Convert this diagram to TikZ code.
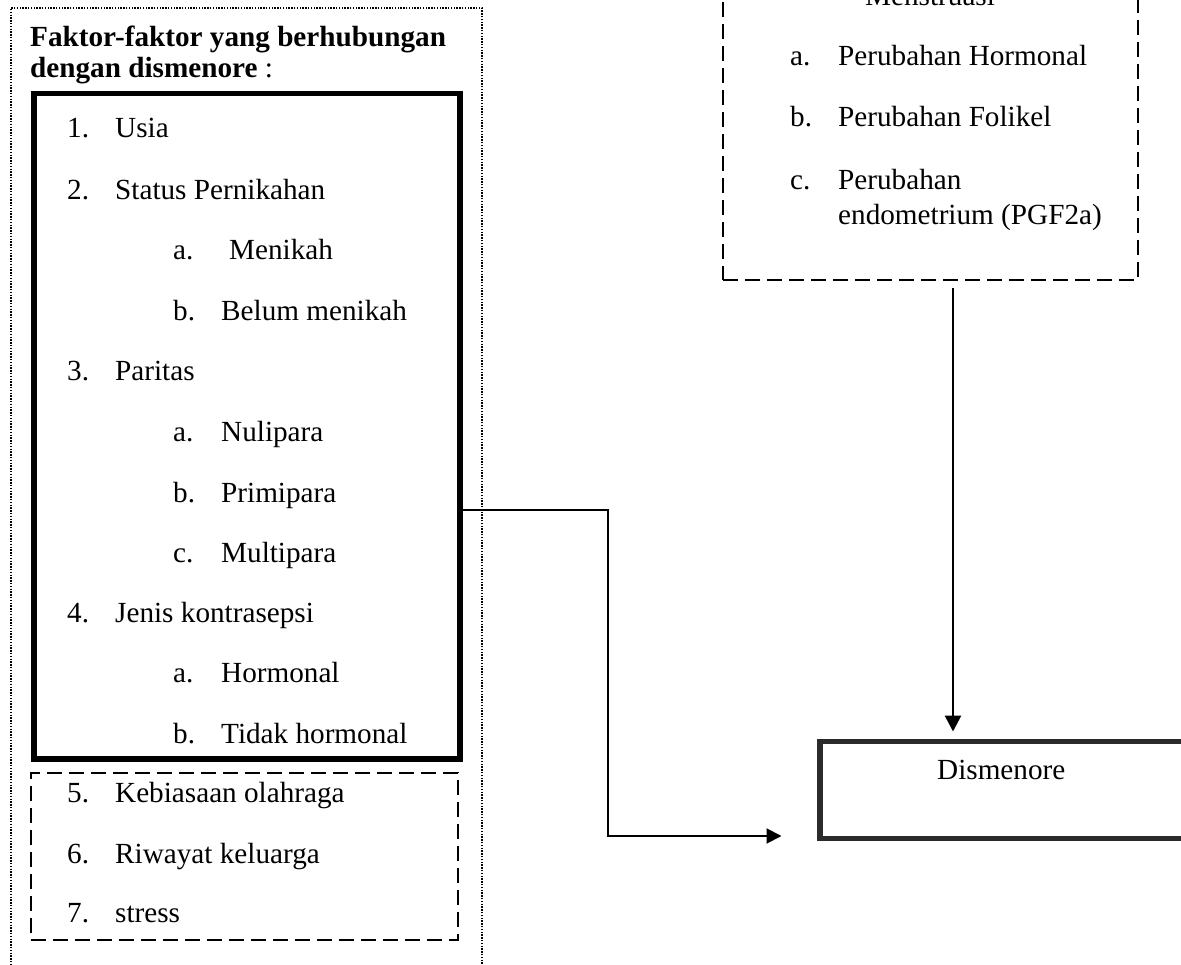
\documentclass[tikz,border=0pt]{standalone}
\usepackage{fontspec}
\setmainfont{Liberation Serif}
\usetikzlibrary{arrows.meta}
\definecolor{boxgray}{HTML}{2B2B2B}
\tikzset{
  txt/.style={font=\fontsize{29.2}{33}\selectfont, inner sep=0pt, anchor=base west},
  btxt/.style={txt, font=\fontsize{29.2}{33}\selectfont\bfseries},
  thickbox/.style={draw=black, line width=5.5pt, inner sep=0pt, anchor=north west},
  dashbox/.style={draw=black, line width=2pt, dash pattern=on 15pt off 7pt, inner sep=0pt, anchor=north west},
  dotbox/.style={draw=black, line width=1.8pt, dash pattern=on 1.4pt off 1.4pt, inner sep=0pt, anchor=north west},
  outbox/.style={draw=boxgray, line width=5.5pt, inner sep=0pt, anchor=north west},
  conn/.style={draw=black, line width=2pt, -{Triangle[length=15pt,width=15pt]}},
  vconn/.style={draw=black, line width=2.8pt, -{Triangle[length=16pt,width=16pt]}}
}
\begin{document}
\begin{tikzpicture}[x=1pt,y=-1pt]
\useasboundingbox (0,0) rectangle (1181,965);
% outer dotted box
\node[dotbox, minimum width=471pt, minimum height=1000pt] (outer) at (10,7) {};
% title
\node[btxt] (t1) at (30,47) {Faktor-faktor yang berhubungan};
\node[txt] (t2) at (30,78) {\textbf{dengan dismenore} :};
% thick box
\node[thickbox, minimum width=426pt, minimum height=665pt] (factors) at (31,91) {};
\node[txt] (n1) at (67,138) {1.};  \node[txt] (i1) at (115,138) {Usia};
\node[txt] (n2) at (67,200) {2.};  \node[txt] (i2) at (115,200) {Status Pernikahan};
\node[txt] (n2a) at (173,260) {a.}; \node[txt] (i2a) at (229,260) {Menikah};
\node[txt] (n2b) at (173,321) {b.}; \node[txt] (i2b) at (221,321) {Belum menikah};
\node[txt] (n3) at (67,381) {3.};  \node[txt] (i3) at (115,381) {Paritas};
\node[txt] (n3a) at (173,442) {a.}; \node[txt] (i3a) at (221,442) {Nulipara};
\node[txt] (n3b) at (173,502) {b.}; \node[txt] (i3b) at (221,502) {Primipara};
\node[txt] (n3c) at (173,562) {c.}; \node[txt] (i3c) at (221,562) {Multipara};
\node[txt] (n4) at (67,622) {4.};  \node[txt] (i4) at (115,622) {Jenis kontrasepsi};
\node[txt] (n4a) at (173,682) {a.}; \node[txt] (i4a) at (221,682) {Hormonal};
\node[txt] (n4b) at (173,743) {b.}; \node[txt] (i4b) at (221,743) {Tidak hormonal};
% dashed box 5-7
\node[dashbox, minimum width=427pt, minimum height=167pt] (other) at (30,772) {};
\node[txt] (n5) at (67,802) {5.}; \node[txt] (i5) at (115,802) {Kebiasaan olahraga};
\node[txt] (n6) at (67,863) {6.}; \node[txt] (i6) at (115,863) {Riwayat keluarga};
\node[txt] (n7) at (67,922) {7.}; \node[txt] (i7) at (115,922) {stress};
% right dashed box
\node[dashbox, minimum width=415pt, minimum height=340pt] (mens) at (722,-61) {};
\node[txt] (mt) at (865,6) {Menstruasi};
\node[txt] (ma) at (790,66) {a.}; \node[txt] (mai) at (838,66) {Perubahan Hormonal};
\node[txt] (mb) at (790,127) {b.}; \node[txt] (mbi) at (838,127) {Perubahan Folikel};
\node[txt] (mc) at (790,190) {c.}; \node[txt] (mci) at (838,190) {Perubahan};
\node[txt] (mci2) at (838,225) {endometrium (PGF2a)};
% Dismenore box
\node[outbox, minimum width=500pt, minimum height=97pt] (dism) at (817,738.5) {};
\node[txt] (dt) at (937,779) {Dismenore};
% connectors
\coordinate (vx) at (953,0);
\draw[vconn, shorten <=7pt, shorten >=7pt] (mens.south -| vx) -- (dism.north -| vx);
\coordinate (elbow) at (607.5,510);
\coordinate (tip) at (781.5,836);
\draw[conn] (factors.east |- elbow) -- (elbow) |- (tip);
\end{tikzpicture}
\end{document}
